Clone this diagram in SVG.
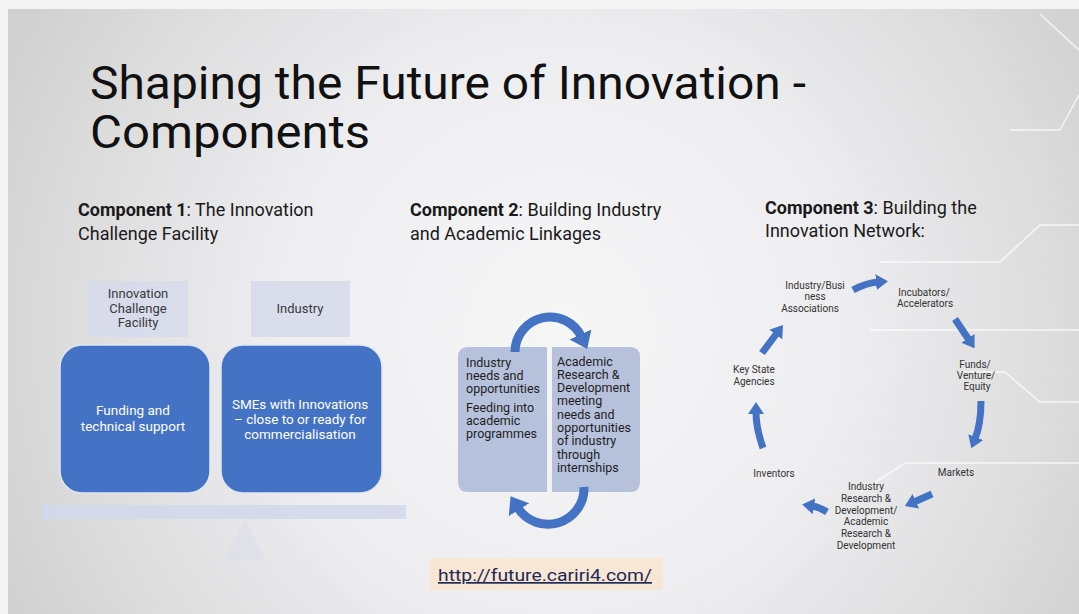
<svg xmlns="http://www.w3.org/2000/svg" width="1079" height="614" viewBox="0 0 1079 614">
<defs>
  <radialGradient id="bg" cx="560" cy="330" r="620" gradientUnits="userSpaceOnUse">
    <stop offset="0" stop-color="#f6f6f7"/>
    <stop offset="0.45" stop-color="#eeeef0"/>
    <stop offset="0.8" stop-color="#dcdcdd"/>
    <stop offset="1" stop-color="#d0d0d1"/>
  </radialGradient>
  <marker id="head2" markerUnits="userSpaceOnUse" markerWidth="16" markerHeight="24" refX="3" refY="12" orient="auto">
    <path d="M0,0 L16,12 L0,24 z" fill="#4472c4"/>
  </marker>
  <marker id="head3" markerUnits="userSpaceOnUse" markerWidth="12" markerHeight="16" refX="2" refY="8" orient="auto">
    <path d="M0,0 L12,8 L0,16 z" fill="#4472c4"/>
  </marker>
  <style>
    text { font-family: Roboto, "Liberation Sans", Arial, sans-serif; }
    .title { font-size: 46px; fill: #111; }
    .hdr { font-size: 18px; fill: #1a1a1a; }
    .hdr .b { font-weight: bold; }
    .lbox { fill: #d6daeb; opacity: 0.9; }
    .lt { font-size: 13px; fill: #3a3a3a; text-anchor: middle; }
    .bbox { fill: #4472c4; stroke: #dfe6f3; stroke-width: 1.5; }
    .wt { font-size: 13.5px; fill: #ffffff; text-anchor: middle; }
    .cbox { fill: #b6c1dc; }
    .ct { font-size: 12.5px; fill: #1e1e1e; }
    .arc2 { fill: none; stroke: #4472c4; stroke-width: 9; marker-end: url(#head2); }
    .arr3 { fill: none; stroke: #4472c4; stroke-width: 7; marker-end: url(#head3); }
    .nt { font-size: 10px; fill: #333; text-anchor: middle; }
    .deco { fill: none; stroke: #ffffff; stroke-width: 1.5; opacity: 0.75; }
  </style>
</defs>

<!-- background -->
<rect x="0" y="0" width="1079" height="614" fill="#f4f4f4"/>
<rect x="8" y="9" width="1071" height="605" fill="url(#bg)"/>
<g id="decoration">
  <path class="deco" d="M880,262 L1000,262 L1040,225 L1079,225"/>
  <path class="deco" d="M870,330 L1079,330"/>
  <path class="deco" d="M960,372 L1005,372 L1040,402 L1079,402"/>
  <path class="deco" d="M860,492 L905,463 L1079,463"/>
  <path class="deco" d="M1040,14 L1079,50"/>
  <path class="deco" d="M1010,130 L1060,130 L1079,95"/>
</g>

<!-- title -->
<g id="title">
  <text class="title" x="90" y="99" textLength="716" lengthAdjust="spacingAndGlyphs">Shaping the Future of Innovation -</text>
  <text class="title" x="90" y="148" textLength="280" lengthAdjust="spacingAndGlyphs">Components</text>
</g>

<!-- Component 1 -->
<g id="component1-header">
  <text class="hdr" x="78" y="216"><tspan class="b">Component 1</tspan>: The Innovation</text>
  <text class="hdr" x="78" y="240">Challenge Facility</text>
</g>
<g id="c1-label-icf">
  <rect class="lbox" x="88" y="281" width="100" height="56"/>
  <text class="lt" x="138" y="298">Innovation</text>
  <text class="lt" x="138" y="313">Challenge</text>
  <text class="lt" x="138" y="327">Facility</text>
</g>
<g id="c1-label-industry">
  <rect class="lbox" x="251" y="281" width="99" height="56"/>
  <text class="lt" x="300" y="313">Industry</text>
</g>
<g id="c1-funding">
  <rect class="bbox" x="60" y="345" width="150" height="148" rx="22" ry="22"/>
  <text class="wt" x="133" y="415">Funding and</text>
  <text class="wt" x="133" y="431">technical support</text>
</g>
<g id="c1-smes">
  <rect class="bbox" x="221" y="345" width="161" height="148" rx="22" ry="22"/>
  <text class="wt" x="300" y="409">SMEs with Innovations</text>
  <text class="wt" x="300" y="424">– close to or ready for</text>
  <text class="wt" x="300" y="439">commercialisation</text>
</g>
<g id="c1-balance">
  <rect x="42" y="505" width="364" height="14" fill="#d3d8ec" opacity="0.9"/>
  <path d="M245,519 L225,560 L265,560 z" fill="#d3d8ec" opacity="0.3"/>
</g>

<!-- Component 2 -->
<g id="component2-header">
  <text class="hdr" x="410" y="216"><tspan class="b">Component 2</tspan>: Building Industry</text>
  <text class="hdr" x="410" y="240">and Academic Linkages</text>
</g>
<g id="c2-industry-needs">
  <path class="cbox" d="M468,347 L547,347 L547,492 L468,492 Q458,492 458,482 L458,357 Q458,347 468,347 z"/>
  <text class="ct" x="466" y="367">Industry</text>
  <text class="ct" x="466" y="380">needs and</text>
  <text class="ct" x="466" y="393">opportunities</text>
  <text class="ct" x="466" y="412">Feeding into</text>
  <text class="ct" x="466" y="425">academic</text>
  <text class="ct" x="466" y="438">programmes</text>
</g>
<g id="c2-academic-rd">
  <path class="cbox" d="M552,347 L630,347 Q640,347 640,357 L640,482 Q640,492 630,492 L552,492 z"/>
  <text class="ct" x="557" y="366">Academic</text>
  <text class="ct" x="557" y="379">Research &amp;</text>
  <text class="ct" x="557" y="392">Development</text>
  <text class="ct" x="557" y="405">meeting</text>
  <text class="ct" x="557" y="419">needs and</text>
  <text class="ct" x="557" y="432">opportunities</text>
  <text class="ct" x="557" y="445">of industry</text>
  <text class="ct" x="557" y="459">through</text>
  <text class="ct" x="557" y="472">internships</text>
</g>

<!-- Component 3 -->
<g id="component3-header">
  <text class="hdr" x="765" y="214"><tspan class="b">Component 3</tspan>: Building the</text>
  <text class="hdr" x="765" y="237">Innovation Network:</text>
</g>
<g id="c3-industry-business">
  <text class="nt" x="815" y="289">Industry/Busi</text>
  <text class="nt" x="815" y="300">ness</text>
  <text class="nt" x="810" y="312">Associations</text>
</g>
<g id="c3-incubators">
  <text class="nt" x="924" y="296">Incubators/</text>
  <text class="nt" x="925" y="307">Accelerators</text>
</g>
<g id="c3-funds">
  <text class="nt" x="975" y="368">Funds/</text>
  <text class="nt" x="976" y="379">Venture/</text>
  <text class="nt" x="977" y="390">Equity</text>
</g>
<g id="c3-markets">
  <text class="nt" x="956" y="476">Markets</text>
</g>
<g id="c3-research">
  <text class="nt" x="866" y="490">Industry</text>
  <text class="nt" x="866" y="502">Research &amp;</text>
  <text class="nt" x="866" y="514">Development/</text>
  <text class="nt" x="866" y="525">Academic</text>
  <text class="nt" x="866" y="537">Research &amp;</text>
  <text class="nt" x="866" y="549">Development</text>
</g>
<g id="c3-inventors">
  <text class="nt" x="774" y="477">Inventors</text>
</g>
<g id="c3-key-state">
  <text class="nt" x="754" y="373">Key State</text>
  <text class="nt" x="754" y="385">Agencies</text>
</g>

<!-- connectors -->
<g id="connectors">
  <path class="arc2" d="M515,352 A35,35 0 0,1 581.7,337.2"/>
  <path class="arc2" d="M584,487 A36,36 0 0,1 517.4,507.2"/>
  <path class="arr3" d="M853,290 Q866,283 878,282"/>
  <path class="arr3" d="M955,319 L969,340"/>
  <path class="arr3" d="M981,401 Q981,424 975,439"/>
  <path class="arr3" d="M932,494 L914,502"/>
  <path class="arr3" d="M827,512 Q819,507 812,506"/>
  <path class="arr3" d="M763,448 Q756,428 756,412"/>
  <path class="arr3" d="M762,353 L777,333"/>
</g>

<!-- link -->
<g id="link">
  <rect x="430" y="558" width="233" height="32" fill="#fbe3cc" opacity="0.75"/>
  <text x="438" y="581" font-size="17" fill="#1f2a55" text-decoration="underline" font-family="'Liberation Sans', Arial, sans-serif" textLength="214" lengthAdjust="spacingAndGlyphs">http://future.cariri4.com/</text>
</g>
</svg>
